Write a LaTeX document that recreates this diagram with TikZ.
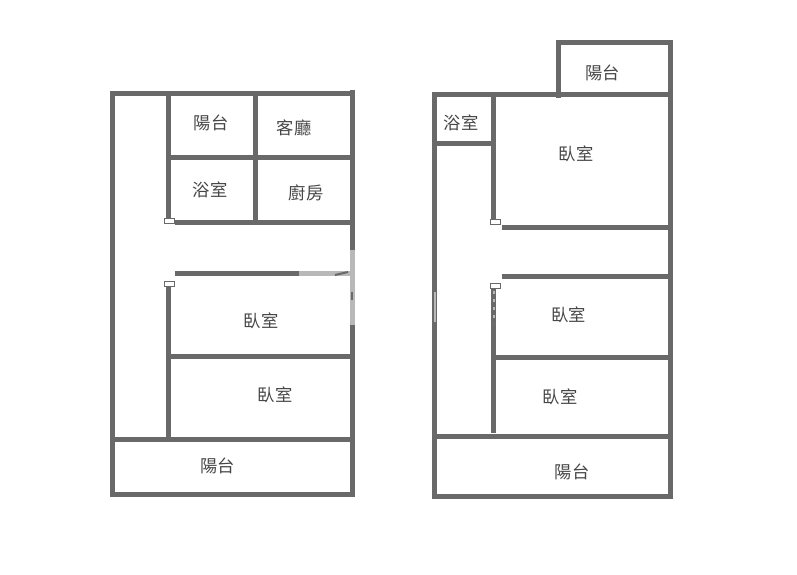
\documentclass[tikz,border=0pt]{standalone}
\usepackage{fontspec}
\setmainfont{Noto Sans CJK TC}
\definecolor{wallgray}{RGB}{105,105,105}
\definecolor{wallfaint}{RGB}{184,184,184}
\definecolor{labelgray}{RGB}{70,70,70}

\begin{document}
\begin{tikzpicture}[x=1pt,y=-1pt,
    every node/.style={text=labelgray,font=\fontsize{17.3}{19}\selectfont,inner sep=0pt},
    wall/.style={draw=wallgray,line width=5pt},
    thinwall/.style={draw=wallgray,line width=4.5pt},
    fadedwall/.style={draw=wallfaint,line width=5pt},
    fleck/.style={draw=wallgray,line width=2pt},
    doorstop/.style={draw=wallgray,line width=1pt,fill=white,minimum width=10pt,minimum height=5pt}]
            \useasboundingbox (0,0) rectangle (797,575);

            % left floor
            \draw[wall] (112.7,93.7) rectangle (352.3,494.7);
            \draw[wall] (352.3,90) -- (352.3,100);
            \draw[wall] (168.7,93.7) -- (168.7,219);
            \draw[wall] (168.7,285) -- (168.7,440);
            \draw[wall] (255,93.7) -- (255,222);
            \draw[wall] (168.7,157.3) -- (352.3,157.3);
            \draw[wall] (175,222.3) -- (352.3,222.3);
            \draw[wall] (175,273.7) -- (352.3,273.7);
            \draw[wall] (168.7,356) -- (352.3,356);
            \draw[wall] (112.7,439.7) -- (352.3,439.7);
            \draw[fadedwall] (299,273.7) -- (352.3,273.7);
            \draw[fadedwall] (352.3,250) -- (352.3,325);
            \draw[fleck] (335,275) -- (348,272);
            \draw[fleck] (352,292) -- (352,300);

            % right floor
            \draw[wall] (434,95) rectangle (670,496);
            \draw[wall] (670,95) -- (670,40);
            \draw[wall] (670,42.3) -- (556.2,42.3);
            \draw[wall] (558.7,42.3) -- (558.7,98);
            \draw[thinwall] (493.7,95) -- (493.7,220);
            \draw[thinwall] (493.7,285) -- (493.7,432.7);
            \draw[wall] (434,143.7) -- (493.7,143.7);
            \draw[wall] (501.7,227.3) -- (670,227.3);
            \draw[wall] (501.7,276) -- (670,276);
            \draw[wall] (493.7,357.3) -- (670,357.3);
            \draw[wall] (434,436) -- (670,436);
            \draw[draw=wallfaint,line width=2.5pt] (435.2,292) -- (435.2,322);
            \draw[draw=wallfaint,line width=2pt,dash pattern=on 3pt off 5pt] (494,291) -- (494,323);

            \node[doorstop] (doorA) at (169.3,220.5) {};
            \node[doorstop] (doorB) at (169.3,284.3) {};
            \node[doorstop] (doorC) at (495.7,221.7) {};
            \node[doorstop] (doorD) at (495.7,285.7) {};

            \node (balconyA) at (211,122.7) {陽台};
            \node (living) at (294,128) {客廳};
            \node (bathA) at (210,190) {浴室};
            \node (kitchen) at (306,192.7) {廚房};
            \node (bedA) at (261,320.7) {臥室};
            \node (bedB) at (275,395.3) {臥室};
            \node (balconyB) at (217.3,466) {陽台};

            \node (balconyC) at (602.3,72.7) {陽台};
            \node (bathB) at (461,122.7) {浴室};
            \node (bedC) at (576,154.3) {臥室};
            \node (bedD) at (568.3,315) {臥室};
            \node (bedE) at (560,396.7) {臥室};
            \node (balconyD) at (572,471.7) {陽台};
        \end{tikzpicture}
\end{document}
